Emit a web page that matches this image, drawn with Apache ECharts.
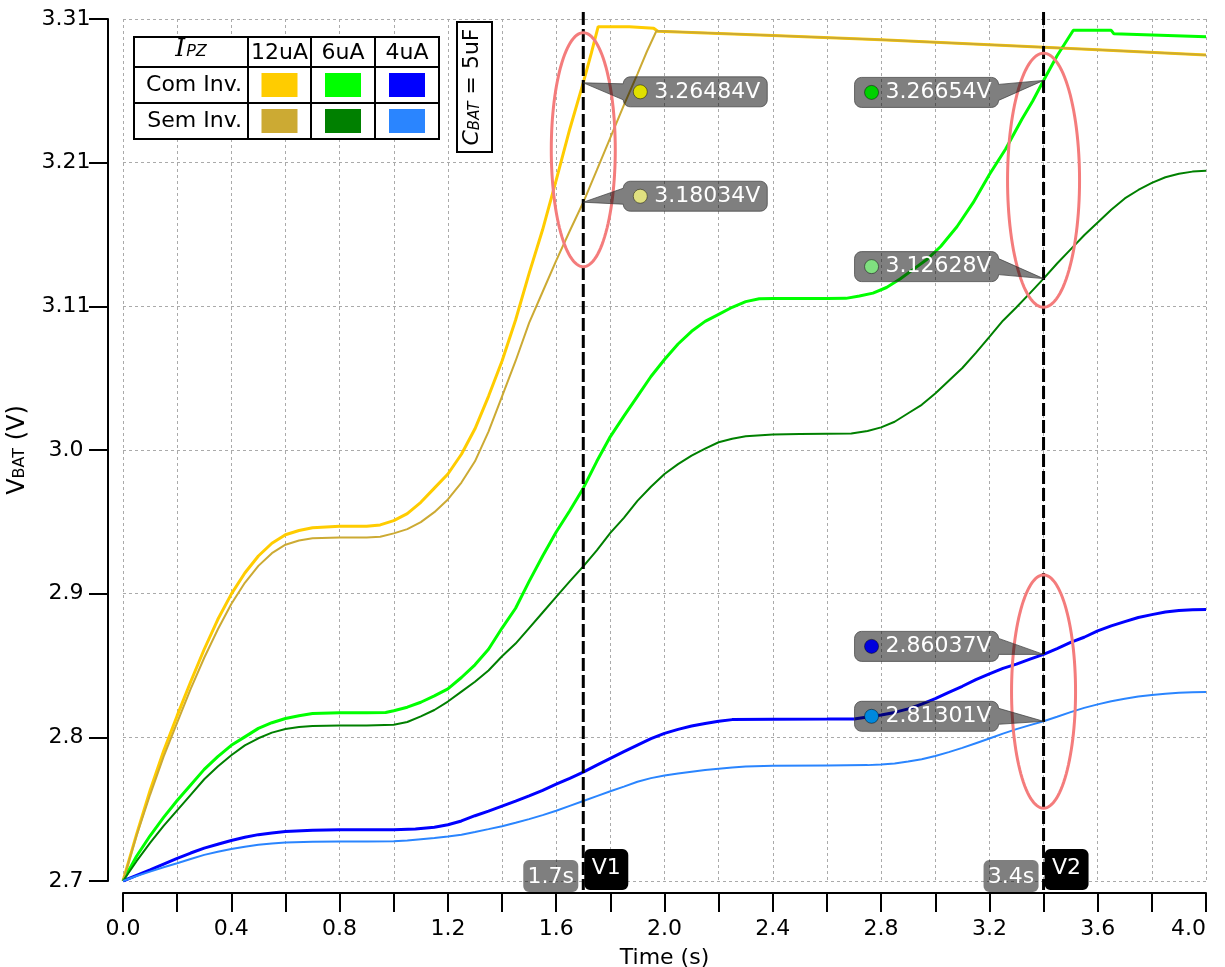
<!DOCTYPE html>
<html><head><meta charset="utf-8">
<script src="https://cdn.jsdelivr.net/npm/echarts@6/dist/echarts.min.js"></script>
<style>html,body{margin:0;padding:0;background:#fff}#c{width:1225px;height:967px}</style>
</head><body><div id="c"></div>
<script>
// ---------------- DATA ----------------
const xTickLabels = ['0.0','0.4','0.8','1.2','1.6','2.0','2.4','2.8','3.2','3.6','4.0'];
const yTickLabels = ['2.7','2.8','2.9','3.0','3.11','3.21','3.31'];
const currents = ['12uA','6uA','4uA'];
const modes = ['Com Inv.','Sem Inv.'];

// Com Inv. (with inverter)
const comInv12uA = [[0,2.7],[0.05,2.733],[0.1,2.764],[0.15,2.792],[0.2,2.817],[0.25,2.841],[0.3,2.864],[0.35,2.885],[0.4,2.903],[0.45,2.918],[0.5,2.93],[0.55,2.939],[0.6,2.945],[0.65,2.948],[0.7,2.95],[0.8,2.951],[0.9,2.951],[0.95,2.952],[1.0,2.955],[1.05,2.96],[1.1,2.968],[1.15,2.978],[1.2,2.988],[1.25,3.002],[1.3,3.02],[1.35,3.043],[1.4,3.068],[1.45,3.097],[1.5,3.13],[1.55,3.161],[1.6,3.196],[1.65,3.232],[1.7,3.265],[1.73,3.286],[1.755,3.3046],[1.87,3.3046],[1.875,3.3035],[1.96,3.3035],[1.975,3.3013],[2.4,3.2983],[2.8,3.2953],[3.2,3.2918],[3.6,3.2883],[4.0,3.2845]];
const comInv6uA = [[0,2.7],[0.05,2.7175],[0.1,2.732],[0.15,2.745],[0.2,2.757],[0.25,2.768],[0.3,2.779],[0.35,2.788],[0.4,2.796],[0.45,2.802],[0.5,2.808],[0.55,2.812],[0.6,2.815],[0.65,2.817],[0.7,2.8185],[0.8,2.819],[0.9,2.819],[0.97,2.8192],[1.0,2.8205],[1.05,2.823],[1.1,2.8265],[1.15,2.831],[1.2,2.836],[1.25,2.844],[1.3,2.853],[1.35,2.864],[1.4,2.879],[1.45,2.893],[1.5,2.912],[1.55,2.93],[1.6,2.947],[1.65,2.962],[1.7,2.978],[1.75,2.997],[1.8,3.0145],[1.85,3.029],[1.9,3.043],[1.95,3.057],[2.0,3.069],[2.05,3.08],[2.1,3.089],[2.15,3.096],[2.2,3.101],[2.25,3.106],[2.3,3.11],[2.35,3.112],[2.4,3.1122],[2.5,3.1122],[2.6,3.1122],[2.67,3.1123],[2.72,3.114],[2.77,3.116],[2.82,3.12],[2.87,3.126],[2.92,3.133],[2.97,3.14],[3.02,3.149],[3.08,3.163],[3.14,3.18],[3.2,3.2],[3.26,3.218],[3.32,3.239],[3.36,3.252],[3.4,3.2665],[3.45,3.284],[3.51,3.302],[3.65,3.302],[3.66,3.2995],[4.0,3.2975]];
const comInv4uA = [[0,2.7],[0.05,2.704],[0.1,2.7078],[0.15,2.712],[0.2,2.716],[0.25,2.7198],[0.3,2.7233],[0.35,2.726],[0.4,2.7287],[0.45,2.731],[0.5,2.7328],[0.55,2.734],[0.6,2.735],[0.7,2.736],[0.8,2.7362],[0.9,2.7362],[1.0,2.7363],[1.08,2.7368],[1.15,2.738],[1.2,2.7398],[1.25,2.7425],[1.3,2.7462],[1.35,2.7495],[1.4,2.753],[1.45,2.7565],[1.5,2.7602],[1.55,2.7642],[1.6,2.7685],[1.65,2.7727],[1.7,2.777],[1.75,2.782],[1.8,2.7868],[1.85,2.7915],[1.9,2.7962],[1.95,2.8007],[2.0,2.8045],[2.05,2.8073],[2.1,2.8097],[2.15,2.8115],[2.2,2.813],[2.25,2.8142],[2.4,2.8145],[2.6,2.8146],[2.7,2.8147],[2.75,2.816],[2.8,2.8175],[2.85,2.8193],[2.9,2.8218],[2.95,2.8252],[3.0,2.829],[3.05,2.8335],[3.1,2.8378],[3.15,2.8425],[3.2,2.8465],[3.25,2.8505],[3.3,2.8535],[3.35,2.857],[3.4,2.8604],[3.45,2.8645],[3.5,2.8688],[3.55,2.8725],[3.6,2.877],[3.65,2.8805],[3.7,2.8835],[3.75,2.8865],[3.8,2.8885],[3.85,2.8903],[3.9,2.8915],[3.95,2.892],[4.0,2.8922]];

// Sem Inv. (without inverter)
const semInv12uA = [[0,2.7],[0.05,2.732],[0.1,2.761],[0.15,2.788],[0.2,2.812],[0.25,2.836],[0.3,2.858],[0.35,2.878],[0.4,2.896],[0.45,2.911],[0.5,2.923],[0.55,2.932],[0.6,2.938],[0.65,2.941],[0.7,2.9425],[0.8,2.943],[0.9,2.943],[0.95,2.9436],[1.0,2.946],[1.05,2.949],[1.1,2.954],[1.15,2.961],[1.2,2.97],[1.25,2.982],[1.3,2.997],[1.35,3.018],[1.4,3.043],[1.45,3.068],[1.5,3.095],[1.55,3.117],[1.6,3.139],[1.65,3.16],[1.7,3.1803],[1.75,3.203],[1.8,3.226],[1.85,3.249],[1.9,3.271],[1.935,3.287],[1.97,3.3015],[2.4,3.2983],[2.8,3.2953],[3.2,3.2918],[3.6,3.2883],[4.0,3.2845]];
const semInv6uA = [[0,2.7],[0.05,2.714],[0.1,2.727],[0.15,2.739],[0.2,2.75],[0.25,2.761],[0.3,2.772],[0.35,2.781],[0.4,2.789],[0.45,2.796],[0.5,2.801],[0.55,2.805],[0.6,2.8075],[0.65,2.809],[0.7,2.8097],[0.8,2.81],[0.9,2.81],[1.0,2.8105],[1.05,2.8125],[1.1,2.8165],[1.15,2.821],[1.2,2.827],[1.25,2.834],[1.3,2.841],[1.35,2.849],[1.4,2.859],[1.45,2.868],[1.5,2.879],[1.55,2.89],[1.6,2.901],[1.65,2.912],[1.7,2.9226],[1.75,2.934],[1.8,2.9463],[1.85,2.957],[1.9,2.969],[1.95,2.979],[2.0,2.988],[2.05,2.995],[2.1,3.001],[2.15,3.006],[2.2,3.0105],[2.25,3.013],[2.3,3.0148],[2.4,3.016],[2.5,3.0163],[2.6,3.0165],[2.69,3.0166],[2.75,3.0185],[2.8,3.021],[2.85,3.025],[2.9,3.031],[2.95,3.037],[3.0,3.045],[3.05,3.054],[3.1,3.063],[3.15,3.0737],[3.2,3.085],[3.25,3.0965],[3.3,3.106],[3.35,3.116],[3.4,3.1263],[3.45,3.137],[3.5,3.147],[3.55,3.157],[3.6,3.166],[3.65,3.175],[3.7,3.183],[3.75,3.189],[3.8,3.194],[3.85,3.198],[3.9,3.2005],[3.95,3.202],[4.0,3.2026]];
const semInv4uA = [[0,2.7],[0.05,2.7035],[0.1,2.7066],[0.15,2.7097],[0.2,2.7126],[0.25,2.7156],[0.3,2.7185],[0.35,2.7207],[0.4,2.7226],[0.45,2.7243],[0.5,2.7256],[0.55,2.7266],[0.6,2.7272],[0.7,2.7278],[0.8,2.728],[0.9,2.728],[1.0,2.7281],[1.05,2.7287],[1.1,2.7296],[1.15,2.7305],[1.2,2.7315],[1.25,2.7328],[1.3,2.7347],[1.35,2.7367],[1.4,2.7388],[1.45,2.7412],[1.5,2.7438],[1.55,2.7466],[1.6,2.7497],[1.65,2.7532],[1.7,2.7566],[1.75,2.7601],[1.8,2.7635],[1.85,2.7668],[1.9,2.7702],[1.95,2.7728],[2.0,2.7747],[2.05,2.7761],[2.1,2.7773],[2.15,2.7785],[2.2,2.7795],[2.25,2.7803],[2.3,2.781],[2.4,2.7815],[2.6,2.7818],[2.75,2.782],[2.8,2.7825],[2.85,2.7832],[2.9,2.7845],[2.95,2.7862],[3.0,2.7885],[3.05,2.7912],[3.1,2.7942],[3.15,2.7975],[3.2,2.8008],[3.25,2.8043],[3.3,2.8075],[3.35,2.8103],[3.4,2.813],[3.45,2.8162],[3.5,2.8195],[3.55,2.8225],[3.6,2.825],[3.65,2.8272],[3.7,2.829],[3.75,2.8305],[3.8,2.8317],[3.85,2.8325],[3.9,2.8332],[3.95,2.8336],[4.0,2.8338]];

// cursor times and readout values
const cursorTimes = [1.7, 3.4];
const cursorNames = ['V1','V2'];
const readV1 = [3.26484, 3.18034];
const readV2 = [3.26654, 3.12628, 2.86037, 2.81301];

// ---------------- STYLE ----------------
const F = 'DejaVu Sans';
const Y_MIN = 2.7, Y_MAX = 3.31, Y_STEP = (Y_MAX - Y_MIN) / 6;
const colorsCom = ['#FFCC00', '#00FF00', '#0000FF'];
const colorsSem = ['#CCAA33', '#008000', '#2A85FF'];
const readColorsV1 = ['#E0E000', '#E0E080'];
const readColorsV2 = ['#00D000', '#80E080', '#0000DD', '#0088DD'];
const readDyV1 = [9, -6];
const readDyV2 = [12, -12, -8, -5];
// ellipse highlight: [cursor index, vTop, vBottom, half width px]
const ellipses = [[0, 3.3003, 3.1347, 32], [1, 3.2858, 3.106, 36], [1, 2.9166, 2.7515, 32]];

const chart = echarts.init(document.getElementById('c'));
const comData = [comInv12uA, comInv6uA, comInv4uA];
const semData = [semInv12uA, semInv6uA, semInv4uA];
const series = [];
comData.forEach((d, i) => series.push({
  name: modes[0] + ' ' + currents[i], type: 'line', data: d, symbol: 'none', showSymbol: false,
  lineStyle: {color: colorsCom[i], width: 3}, itemStyle: {color: colorsCom[i]}, silent: true, z: 2
}));
semData.forEach((d, i) => series.push({
  name: modes[1] + ' ' + currents[i], type: 'line', data: d, symbol: 'none', showSymbol: false,
  lineStyle: {color: colorsSem[i], width: 2}, itemStyle: {color: colorsSem[i]}, silent: true, z: 3
}));

const gridLine = {show: true, lineStyle: {color: '#aaaaaa', width: 1, type: [3, 3]}};
chart.setOption({
  animation: false,
  backgroundColor: '#fff',
  grid: {left: 123, right: 19, top: 19, bottom: 86, containLabel: false, outerBoundsMode: 'none'},
  xAxis: {
    type: 'value', min: 0, max: 4, interval: 0.2, offset: 12,
    name: 'Time (s)', nameLocation: 'middle', nameGap: 54,
    nameTextStyle: {fontSize: 22, color: '#000', fontFamily: F},
    axisLine: {show: true, onZero: false, lineStyle: {color: '#000', width: 2}},
    axisTick: {show: true, length: 19, lineStyle: {color: '#000', width: 2}},
    axisLabel: {margin: 25, fontSize: 22, color: '#000', fontFamily: F, alignMaxLabel: 'right',
      formatter: v => { const k = Math.round(v / 0.2); return k % 2 === 0 ? xTickLabels[k / 2] : ''; }},
    splitLine: gridLine
  },
  yAxis: {
    type: 'value', min: Y_MIN, max: Y_MAX, interval: Y_STEP, offset: 15, position: 'left',
    name: '{m|V}{s|BAT}{m| (V)}', nameLocation: 'middle', nameGap: 74, nameRotate: 90, nameMoveOverlap: false,
    nameTextStyle: {fontSize: 24, fontFamily: F, color: '#000', rich: {
      m: {fontSize: 24, fontFamily: F, color: '#000', padding: [0, 0, 4, 0]},
      s: {fontSize: 16, fontFamily: F, color: '#000'}
    }},
    axisLine: {show: true, onZero: false, lineStyle: {color: '#000', width: 2}},
    axisTick: {show: true, length: 19, lineStyle: {color: '#000', width: 2}},
    axisLabel: {margin: 42, align: 'center', fontSize: 22, color: '#000', fontFamily: F,
      formatter: v => { const k = Math.round((v - Y_MIN) / Y_STEP); return yTickLabels[k] || ''; }},
    splitLine: gridLine
  },
  series: series
});

// ---------------- ANNOTATIONS ----------------
const px = (t, v) => chart.convertToPixel({gridIndex: 0}, [t, v]);
const G = [];
const yTop = px(0, Y_MAX)[1], yBot = px(0, Y_MIN)[1];
const TXT = (x, y, text, z, align) => ({type: 'text', x: x, y: y, z: z || 120,
  style: {text: text, fill: '#fff', font: '22px "DejaVu Sans"', align: align || 'center', verticalAlign: 'middle'}});

function arcPts(pts, cx, cy, r, a0, a1) {
  for (let k = 0; k <= 6; k++) { const a = (a0 + (a1 - a0) * k / 6) * Math.PI / 180; pts.push([cx + r * Math.cos(a), cy + r * Math.sin(a)]); }
}
function roundBox(bx, by, w, h, r, tail) {
  const p = [];
  arcPts(p, bx + w - r, by + r, r, -90, 0);
  if (tail && tail.side === 'right') { p.push([bx + w, tail.b1], tail.tip, [bx + w, tail.b2]); }
  arcPts(p, bx + w - r, by + h - r, r, 0, 90);
  arcPts(p, bx + r, by + h - r, r, 90, 180);
  if (tail && tail.side === 'left') { p.push([bx, tail.b2], tail.tip, [bx, tail.b1]); }
  arcPts(p, bx + r, by + r, r, 180, 270);
  return p;
}

// cursors
cursorTimes.forEach((t, i) => {
  const x = px(t, Y_MIN)[0];
  G.push({type: 'line', z: 50, shape: {x1: x, y1: yTop - 7, x2: x, y2: yBot + 9},
    style: {stroke: '#000', lineWidth: 3, lineDash: [13, 4]}});
  G.push({type: 'polygon', z: 110, shape: {points: roundBox(x - 60, yBot - 21, 55, 32, 6)},
    style: {fill: 'rgba(0,0,0,0.5)'}});
  G.push(TXT(x - 32.5, yBot - 4, t.toFixed(1) + 's'));
  G.push({type: 'polygon', z: 110, shape: {points: roundBox(x + 1, yBot - 32, 44, 41, 6)},
    style: {fill: '#000'}});
  G.push(TXT(x + 23, yBot - 13, cursorNames[i]));
});

// ellipses
ellipses.forEach(e => {
  const cx = px(cursorTimes[e[0]], Y_MIN)[0];
  const y1 = px(0, e[1])[1], y2 = px(0, e[2])[1];
  const cy = (y1 + y2) / 2, ry = (y2 - y1) / 2, rx = e[3];
  const pts = [];
  for (let k = 0; k < 120; k++) { const a = k / 120 * Math.PI * 2; pts.push([cx + rx * Math.cos(a), cy + ry * Math.sin(a)]); }
  G.push({type: 'polygon', z: 80, shape: {points: pts}, style: {fill: 'none', stroke: '#F47C7C', lineWidth: 3}});
});

// readout callouts
function callout(t, v, color, dy, side) {
  const [tx, ty] = px(t, v);
  const w = 144, h = 30;
  const cy = ty + dy, by = cy - h / 2;
  const bx = side === 'right' ? tx + 40 : tx - 45 - w;
  const tail = {side: side === 'right' ? 'left' : 'right', tip: [tx, ty], b1: cy - 8, b2: cy + 8};
  G.push({type: 'polygon', z: 90, shape: {points: roundBox(bx, by, w, h, 7, tail)},
    style: {fill: 'rgba(0,0,0,0.5)', stroke: 'rgba(60,60,60,0.7)', lineWidth: 1}});
  G.push({type: 'circle', z: 91, shape: {cx: bx + 17, cy: cy, r: 7}, style: {fill: color, stroke: 'rgba(0,0,0,0.45)', lineWidth: 1}});
  G.push(TXT(bx + 31, cy, v.toFixed(5) + 'V', 91, 'left'));
}
readV1.forEach((v, i) => callout(cursorTimes[0], v, readColorsV1[i], readDyV1[i], 'right'));
readV2.forEach((v, i) => callout(cursorTimes[1], v, readColorsV2[i], readDyV2[i], 'left'));

// legend table
const tX = 134, tY = 37, colW = [114, 63, 64, 64], rowH = [30, 36, 36];
const tW = colW.reduce((a, b) => a + b, 0), tH = rowH.reduce((a, b) => a + b, 0);
G.push({type: 'rect', z: 100, shape: {x: tX, y: tY, width: tW, height: tH}, style: {fill: '#fff', stroke: '#000', lineWidth: 2}});
let cx0 = tX; const colX = [];
colW.forEach((w, i) => { colX.push(cx0); if (i > 0) G.push({type: 'line', z: 101, shape: {x1: cx0, y1: tY, x2: cx0, y2: tY + tH}, style: {stroke: '#000', lineWidth: 2}}); cx0 += w; });
let ry0 = tY; const rowY = [];
rowH.forEach((h, i) => { rowY.push(ry0); if (i > 0) G.push({type: 'line', z: 101, shape: {x1: tX, y1: ry0, x2: tX + tW, y2: ry0}, style: {stroke: '#000', lineWidth: 2}}); ry0 += h; });
const cellC = (c, r) => [colX[c] + colW[c] / 2, rowY[r] + rowH[r] / 2];
// header
G.push({type: 'text', z: 102, x: cellC(0, 0)[0], y: cellC(0, 0)[1], style: {
  text: '{i|I}{s|PZ}', align: 'center', verticalAlign: 'middle',
  rich: {i: {fontFamily: 'DejaVu Serif', fontStyle: 'italic', fontSize: 25, fill: '#000', padding: [0, 1, 5, 0]},
         s: {fontFamily: F, fontStyle: 'italic', fontSize: 16, fill: '#000'}}}});
currents.forEach((c, i) => {
  const [x, y] = cellC(i + 1, 0);
  G.push({type: 'text', z: 102, x: x, y: y + 1, style: {text: c, fill: '#000', font: '22px "DejaVu Sans"', align: 'center', verticalAlign: 'middle'}});
});
modes.forEach((m, r) => {
  const y = cellC(0, r + 1)[1];
  G.push({type: 'text', z: 102, x: colX[1] - 6, y: y, style: {text: m, fill: '#000', font: '22px "DejaVu Sans"', align: 'right', verticalAlign: 'middle'}});
  const cols = r === 0 ? colorsCom : colorsSem;
  cols.forEach((col, i) => {
    const [x, yy] = cellC(i + 1, r + 1);
    G.push({type: 'rect', z: 102, shape: {x: x - 18, y: yy - 12, width: 36, height: 24}, style: {fill: col}});
  });
});
// C_BAT box
G.push({type: 'rect', z: 100, shape: {x: 457, y: 22, width: 35, height: 130}, style: {fill: '#fff', stroke: '#000', lineWidth: 2}});
G.push({type: 'text', z: 101, x: 475, y: 87, rotation: Math.PI / 2, style: {
  text: '{c|C}{s|BAT}{m| = 5uF}', align: 'center', verticalAlign: 'middle',
  rich: {c: {fontFamily: F, fontStyle: 'italic', fontSize: 22, fill: '#000', padding: [0, 0, 5, 0]},
         m: {fontFamily: F, fontSize: 22, fill: '#000', padding: [0, 0, 5, 0]},
         s: {fontFamily: F, fontStyle: 'italic', fontSize: 15, fill: '#000'}}}});

chart.setOption({graphic: {elements: G}});
</script>
</body></html>
